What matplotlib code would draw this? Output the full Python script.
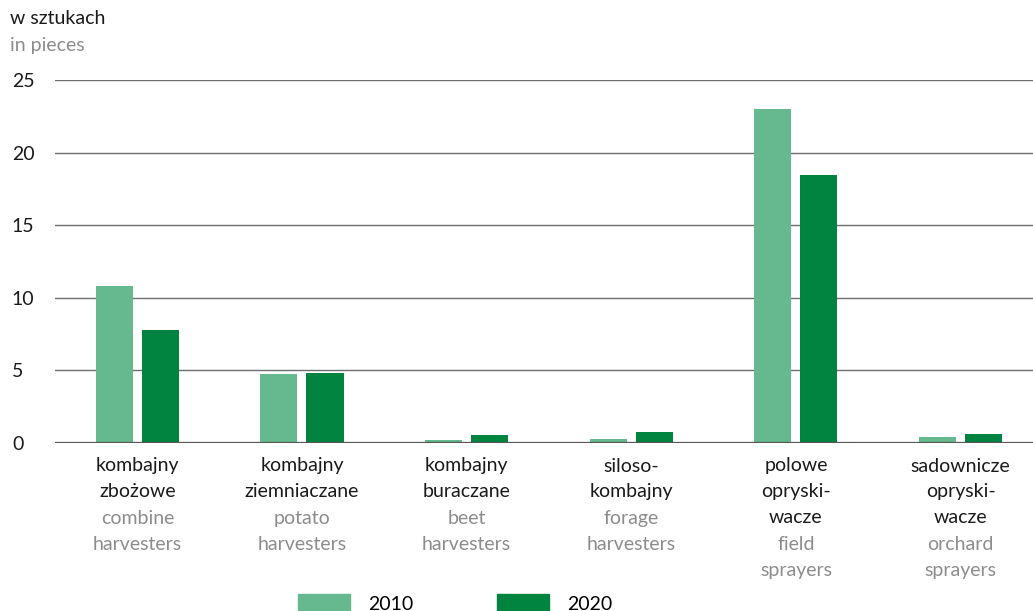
import numpy as np
import matplotlib.pyplot as plt
from matplotlib.patches import Patch

# data
pl_labels = [["kombajny", "zbożowe"], ["kombajny", "ziemniaczane"], ["kombajny", "buraczane"],
             ["siloso-", "kombajny"], ["polowe", "opryski-", "wacze"], ["sadownicze", "opryski-", "wacze"]]
en_labels = [["combine", "harvesters"], ["potato", "harvesters"], ["beet", "harvesters"],
             ["forage", "harvesters"], ["field", "sprayers"], ["orchard", "sprayers"]]
v2010 = [10.8, 4.75, 0.2, 0.3, 23.0, 0.4]
v2020 = [7.8, 4.85, 0.55, 0.75, 18.45, 0.65]
yticks = [0, 5, 10, 15, 20, 25]

c2010 = "#66b98f"
c2020 = "#00843f"
grey = "#8c8c8c"
fs = 14

plt.rcParams['font.family'] = ['Lato', 'DejaVu Sans']

W, H = 1033, 611
fig = plt.figure(figsize=(W / 100, H / 100), dpi=100)
ax = fig.add_axes([55 / W, 1 - 443 / H, 1 - 55 / W, (443 - 80) / H])

x = np.arange(len(v2010))
bw = 0.225
ax.bar(x - 0.14, v2010, bw, color=c2010, zorder=3)
ax.bar(x + 0.14, v2020, bw, color=c2020, zorder=3)

ax.set_xlim(-0.5, 5.44)
ax.set_ylim(0, 25)
for y in yticks[1:]:
    ax.axhline(y, color="#6e6e6e", lw=1, zorder=1)
ax.axhline(0, color="#555555", lw=1.6, zorder=4)
for s in ax.spines.values():
    s.set_visible(False)
ax.set_xticks([])
ax.set_yticks(yticks)
ax.set_yticklabels([str(t) for t in yticks], ha="left", fontsize=fs, color="#1a1a1a")
ax.tick_params(axis="y", length=0, pad=31)

# category labels
step = 25.8
for i in range(len(x)):
    xf = ax.transData.transform((x[i], 0))[0] / W
    k = 0
    for line in pl_labels[i]:
        fig.text(xf, 1 - (466 + k * step) / H, line, ha="center", va="center",
                 fontsize=fs, color="#1a1a1a")
        k += 1
    for line in en_labels[i]:
        fig.text(xf, 1 - (467 + k * step) / H, line, ha="center", va="center",
                 fontsize=fs, color=grey)
        k += 1

fig.text(10 / W, 1 - 18 / H, "w sztukach", ha="left", va="center", fontsize=fs, color="#1a1a1a")
fig.text(10 / W, 1 - 45 / H, "in pieces", ha="left", va="center", fontsize=fs, color=grey)

handles = [Patch(color=c2010, label="2010"), Patch(color=c2020, label="2020")]
fig.legend(handles=handles, loc="upper center", bbox_to_anchor=(455 / W, 1 - 580 / H),
           ncol=2, frameon=False, fontsize=fs, handlelength=2.7, handleheight=1.15,
           columnspacing=4.3, handletextpad=0.9, borderaxespad=0.3)

fig.savefig("out.png", dpi=100)
